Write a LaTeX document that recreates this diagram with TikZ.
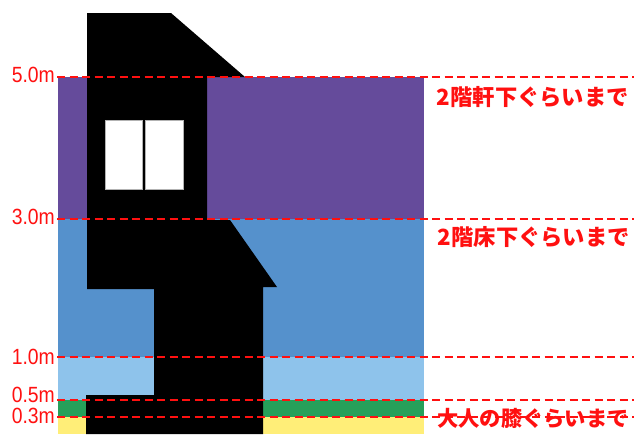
\documentclass[tikz,border=0pt]{standalone}
\usepackage{fontspec}
\setmainfont{Liberation Sans}
\newfontfamily\markfont{Liberation Sans}[FakeStretch=0.88]
\newfontfamily\jpfont{Noto Sans CJK JP}
\begin{document}
\begin{tikzpicture}[x=1pt,y=-1pt,
  level/.style={draw=levelred,line width=1.8pt,dash pattern=on 8pt off 4.5pt},
  heightlabel/.style={text=levelred,font=\markfont\fontsize{22}{23}\selectfont,anchor=east,inner sep=0pt},
  notelabel/.style={text=levelred,font=\jpfont\bfseries\fontsize{22.3}{24}\selectfont,anchor=east,inner sep=0pt},
  pane/.style={fill=white,draw=black!30,line width=0.5pt}]
\definecolor{levelred}{RGB}{255,16,16}
\definecolor{bandpurple}{RGB}{101,75,155}
\definecolor{bandblue}{RGB}{85,145,204}
\definecolor{bandlight}{RGB}{142,195,235}
\definecolor{bandgreen}{RGB}{38,160,90}
\definecolor{bandyellow}{RGB}{255,238,120}
\useasboundingbox (0,0) rectangle (636,434);
% water level bands
\fill[bandpurple] (58,77) rectangle (424,219);
\fill[bandblue] (58,219) rectangle (424,357);
\fill[bandlight] (58,357) rectangle (424,400);
\fill[bandgreen] (58,400) rectangle (424,417);
\fill[bandyellow] (58,417) rectangle (424,434);
% house silhouette
\fill[black] (87,13) -- (171,13) -- (245,77) -- (207,77) -- (207,220) -- (230,220)
  -- (277,287) -- (263,287) -- (263,434) -- (86,434) -- (86,395) -- (154,395)
  -- (154,289) -- (87,289) -- cycle;
% window
\draw[pane] (105,120) rectangle (142.6,189);
\draw[pane] (145.2,120) rectangle (183,189);
% level lines
\foreach \n/\y in {a/77,b/219,c/357,d/400,e/417}{
  \coordinate (\n L) at (57,\y);
  \coordinate (\n R) at (634,\y);
  \draw[level] (\n L) -- (\n R);
}
% height marks
\node[heightlabel] (h50) at (55,75) {5.0m};
\node[heightlabel] (h30) at (55,217) {3.0m};
\node[heightlabel] (h10) at (55,357) {1.0m};
\node[heightlabel] (h05) at (55,395) {0.5m};
\node[heightlabel] (h03) at (55,416) {0.3m};
% descriptions
\node[notelabel] (n1) at (629,97) {2階軒下ぐらいまで};
\node[notelabel] (n2) at (630,237) {2階床下ぐらいまで};
\node[notelabel,font=\jpfont\bfseries\fontsize{21.3}{24}\selectfont] (n3) at (629,418) {大人の膝ぐらいまで};
\end{tikzpicture}
\end{document}
